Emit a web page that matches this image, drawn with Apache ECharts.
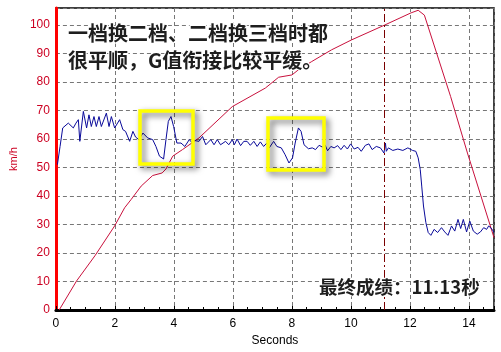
<!DOCTYPE html>
<html>
<head>
<meta charset="utf-8">
<script src="https://cdn.jsdelivr.net/npm/echarts@6/dist/echarts.min.js"></script>
<style>
	html, body { margin:0; padding:0; background:#fff; }
	#chart { width:501px; height:352px; }
</style>
</head>
<body>
<div id="chart"></div>
<script>
// 车速曲线 (km/h)
var speedTime = [0.11, 0.7, 1.32, 1.99, 2.33, 2.55, 2.89, 3.28, 3.6, 3.73, 3.96, 4.29, 4.85, 5.98, 7.1, 7.55, 8.0, 8.22, 8.67, 9.34, 10.02, 11.14, 12.04, 12.28, 12.49, 13.38, 13.95, 14.62, 14.85];
var speedValues = [0, 10.2, 19, 29.5, 35.9, 38.8, 43.5, 47.2, 48.1, 49.5, 54, 56.3, 60.4, 71.4, 77.9, 81.7, 82.5, 84.3, 87.2, 91.3, 94.8, 100, 104.3, 105.2, 103.5, 74.9, 55.1, 33, 25.4];

// G值曲线
var gTime = [0.05, 0.14, 0.23, 0.42, 0.59, 0.68, 0.76, 0.81, 0.93, 1.04, 1.12, 1.2, 1.29, 1.37, 1.46, 1.54, 1.71, 1.8, 1.88, 1.99, 2.16, 2.27, 2.36, 2.5, 2.61, 2.7, 2.81, 2.95,
	3.11, 3.28, 3.39, 3.51, 3.65, 3.73, 3.81, 3.9, 3.99, 4.1, 4.24, 4.37, 4.52, 4.61, 4.69, 4.85, 4.97, 5.08, 5.25, 5.36, 5.47, 5.58, 5.75, 5.86, 5.98, 6.05, 6.14, 6.26, 6.37,
	6.48, 6.59, 6.71, 6.82, 6.93, 7.04, 7.15, 7.23, 7.38, 7.49, 7.64, 7.77, 7.9, 8.02, 8.11, 8.22, 8.31, 8.41, 8.56, 8.69, 8.8, 8.92, 9.03, 9.12, 9.21, 9.32, 9.43, 9.55, 9.66, 9.77, 9.88, 9.99,
	10.11, 10.24, 10.35, 10.49, 10.61, 10.72, 10.86, 11.0, 11.12, 11.17, 11.2, 11.27, 11.42, 11.59, 11.76, 11.93, 12.09, 12.2, 12.28, 12.35, 12.4, 12.46, 12.54, 12.62, 12.71,
	12.82, 12.94, 13.07, 13.18, 13.29, 13.41, 13.52, 13.63, 13.72, 13.81, 13.92, 14.03, 14.15, 14.28, 14.39, 14.5, 14.6, 14.67, 14.79, 14.85];
var gValues = [51, 57.4, 63.9, 65.6, 63.9, 65.6, 66.8, 59.2, 69.7, 63.9, 68.5, 64.4, 67.9, 64.4, 67.9, 64.4, 69.1, 64.4, 67.9, 63.9, 66.8, 63.3, 62.7, 59.2, 62.7, 60.7, 59.8, 62.1,
	60.4, 59.8, 57.4, 54, 53, 59.8, 66.2, 67.9, 64.4, 58.6, 58.6, 57.4, 59.8, 58.8, 59.5, 59.2, 60.9, 58, 59.8, 58, 59.8, 58, 59.2, 58, 59.8, 58, 60, 57.7, 59.2,
	59.2, 57.8, 59.2, 57.4, 59, 57.4, 58.6, 56.9, 59.2, 57.4, 56.9, 54.5, 51.6, 53.4, 58.6, 63.9, 62.7, 58, 56.6, 56.9, 56.3, 57.8, 57.2, 58, 55.9, 57.4, 56.9, 57.7, 56.3, 57.8, 56.5, 58.3,
	56.5, 57.1, 55.7, 57.8, 58.3, 56.3, 57.4, 56.9, 55.1, 58.6, 55.7, 56.9, 56, 56.5, 56, 56.9, 56, 55.7, 53.4, 49.3, 43.5, 36.5, 30.7, 27.2, 26.2,
	28.3, 27.2, 28.9, 27.4, 26.2, 29.5, 27.7, 31.8, 28.6, 31.8, 27.4, 31.2, 27.7, 26.6, 27.4, 28.9, 28.3, 29.5, 28.3, 27.2];

var finishTime = 11.13; // 最终成绩
var xTicks = [0, 2, 4, 6, 8, 10, 12, 14];
var yTicks = [0, 10, 20, 30, 40, 50, 60, 70, 80, 90, 100];

function zip(xs, ys) { // [x, y] 쌍으로 변환
	var res = [];
	for (var i = 0; i < xs.length; i++) {
		res.push([xs[i], ys[i]]);
	}
	return res;
}

var boldFont = '"Noto Sans CJK SC", sans-serif';

function shadowText(x, y, text, size) { // 그림자 있는 굵은 글씨
	return {
		type: 'text',
		left: x, top: y,
		z: 100,
		style: {
			text: text,
			font: 'bold ' + size + 'px ' + boldFont,
			fill: '#1e1e1e',
			stroke: '#ffffff',
			lineWidth: 2,
			shadowColor: 'rgba(0,0,0,0.85)',
			shadowBlur: 8,
			shadowOffsetX: 2,
			shadowOffsetY: 3
		}
	};
}

function yellowBox(x, y, w, h) {
	return {
		type: 'rect',
		z: 90,
		shape: { x: x, y: y, width: w, height: h },
		style: {
			fill: 'none',
			stroke: '#ffff00',
			lineWidth: 3.5,
			shadowColor: 'rgba(0,0,0,0.6)',
			shadowBlur: 6,
			shadowOffsetX: 3,
			shadowOffsetY: 3
		}
	};
}

var myChart = echarts.init(document.getElementById('chart'));

var option = {
	animation: false,
	backgroundColor: '#ffffff',
	grid: {
		left: 53, right: 7, top: 8, bottom: 41,
		show: true,
		borderColor: '#000',
		borderWidth: 1.5
	},
	xAxis: {
		type: 'value',
		min: 0, max: 14.85,
		interval: 2,
		name: 'Seconds',
		nameLocation: 'middle',
		nameGap: 25,
		nameTextStyle: { color: '#000', fontSize: 12, fontFamily: 'Liberation Sans' },
		axisLine: { lineStyle: { color: '#000', width: 3 } },
		axisTick: { inside: true, length: 4, lineStyle: { color: '#000' } },
		minorTick: { show: true, splitNumber: 4, length: 3, lineStyle: { color: '#000' } },
		axisLabel: {
			color: '#000', fontSize: 12, fontFamily: 'Liberation Sans', margin: 8,
			formatter: function (v) { return xTicks.indexOf(v) >= 0 ? String(v) : ''; }
		},
		splitLine: { show: true, lineStyle: { color: '#777', type: [4, 3], width: 1 } }
	},
	yAxis: {
		type: 'value',
		min: 0, max: 106,
		interval: 10,
		name: 'km/h',
		nameLocation: 'middle',
		nameRotate: 90,
		nameGap: 31,
		nameTextStyle: { color: '#cc0022', fontSize: 11, fontFamily: 'Liberation Sans' },
		axisLine: { show: true, lineStyle: { color: '#ff0000', width: 3 } },
		axisTick: { show: false },
		axisLabel: {
			color: '#cc0022', fontSize: 12, fontFamily: 'Liberation Sans', margin: 6,
			formatter: function (v) { return yTicks.indexOf(v) >= 0 ? String(v) : ''; }
		},
		splitLine: { show: true, lineStyle: { color: '#777', type: [4, 3], width: 1 } }
	},
	series: [
		{
			name: '车速',
			type: 'line',
			data: zip(speedTime, speedValues),
			symbol: 'none',
			lineStyle: { color: '#c8103c', width: 1 },
			z: 3,
			markLine: {
				silent: true,
				symbol: 'none',
				label: { show: false },
				lineStyle: { color: '#7a0000', type: [8, 3, 2, 3], width: 1 },
				data: [{ xAxis: finishTime }]
			}
		},
		{
			name: 'G值',
			type: 'line',
			data: zip(gTime, gValues),
			symbol: 'none',
			lineStyle: { color: '#0a0a9a', width: 1 },
			z: 4
		}
	],
	graphic: [
		yellowBox(140, 111, 53, 53),
		yellowBox(268, 118, 56, 52),
		shadowText(67, 22, '一档换二档、二档换三档时都', 20),
		shadowText(67, 49, '很平顺，G值衔接比较平缓。', 20),
		shadowText(318, 277, '最终成绩：11.13秒', 18.5)
	]
};

myChart.setOption(option);
</script>
</body>
</html>
